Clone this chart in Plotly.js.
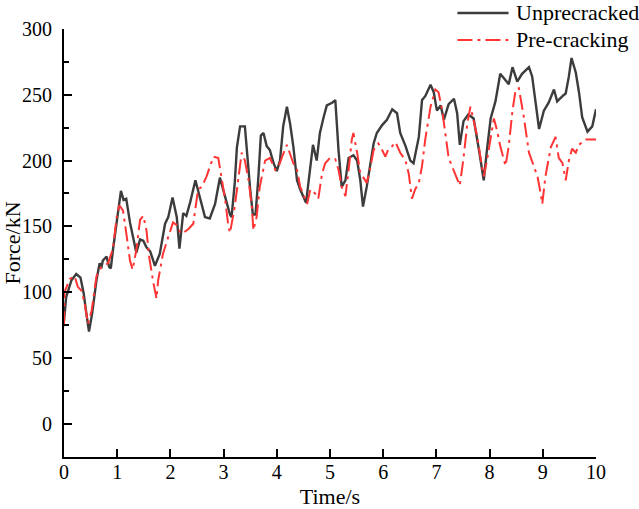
<!DOCTYPE html>
<html>
<head>
<meta charset="utf-8">
<script src="https://cdn.plot.ly/plotly-3.0.1.min.js"></script>
<style>html,body{margin:0;padding:0;background:#fff;}#chart{width:639px;height:509px;}</style>
</head>
<body>
<div id="chart"></div>
<script>
// Unprecracked series (time in s, force in kN)
var timeUnprecracked = [0.00,0.04,0.14,0.23,0.31,0.37,0.43,0.47,0.53,0.61,0.67,0.70,0.73,0.80,0.85,0.88,0.92,0.99,1.04,1.07,1.12,1.17,1.24,1.30,1.36,1.43,1.49,1.55,1.62,1.71,1.80,1.90,1.96,2.04,2.12,2.17,2.24,2.30,2.37,2.47,2.56,2.65,2.74,2.84,2.93,3.03,3.12,3.15,3.21,3.25,3.31,3.40,3.43,3.50,3.55,3.60,3.65,3.70,3.75,3.81,3.87,3.94,4.00,4.06,4.12,4.19,4.25,4.31,4.38,4.44,4.55,4.63,4.68,4.75,4.81,4.88,4.94,5.04,5.10,5.16,5.22,5.29,5.35,5.44,5.51,5.57,5.62,5.69,5.82,5.88,5.98,6.07,6.17,6.26,6.32,6.42,6.51,6.57,6.67,6.73,6.79,6.89,6.95,7.01,7.08,7.14,7.23,7.33,7.39,7.44,7.51,7.60,7.70,7.80,7.89,7.95,8.02,8.11,8.20,8.30,8.36,8.43,8.52,8.61,8.74,8.80,8.86,8.93,9.02,9.11,9.21,9.27,9.37,9.43,9.49,9.54,9.62,9.68,9.74,9.84,9.93,10.00];
var forceUnprecracked = [78,96,109,113.7,111,99,81,70,84,109,122,118,124,127,119,118,132,152,170,177,170,171,153,142,130,140,139,134,131,120,129,152,157,172,157,133,160,158,168,185,170,157,156,167,187,173,159,157,183,210,226,226,211,178,159,159,185,219,221,211,208,198,192,200,226,241,228,211,185,178,168,195,212,200,221,233,242,244,246,208,180,185,202,204,200,185,165,180,213,221,227,231,239,236,221,211,200,198,218,246,249,257.6,252,238,242,231,243,247,236,212,230,235,232,208,185,208,232,245,266,261,258,271,260,266,271,264,246,224,238,244,254,245,249,251,264,278,267,252,233,222,226,239];

// Pre-cracking series
var timePrecracking = [0.00,0.01,0.11,0.20,0.26,0.33,0.39,0.45,0.52,0.61,0.70,0.83,0.92,0.99,1.04,1.11,1.17,1.24,1.29,1.36,1.43,1.49,1.55,1.60,1.68,1.74,1.77,1.86,1.96,2.05,2.15,2.18,2.24,2.34,2.43,2.52,2.59,2.68,2.74,2.81,2.90,2.96,3.03,3.09,3.12,3.21,3.28,3.34,3.40,3.47,3.53,3.56,3.62,3.68,3.78,3.87,3.97,4.03,4.12,4.19,4.25,4.31,4.38,4.44,4.50,4.57,4.63,4.72,4.78,4.85,4.91,5.00,5.10,5.16,5.22,5.29,5.35,5.41,5.44,5.51,5.57,5.63,5.69,5.76,5.82,5.91,5.98,6.04,6.10,6.17,6.23,6.32,6.42,6.48,6.54,6.60,6.67,6.73,6.79,6.89,6.98,7.04,7.11,7.17,7.23,7.30,7.36,7.44,7.51,7.58,7.64,7.70,7.77,7.83,7.89,7.95,8.02,8.08,8.14,8.20,8.30,8.36,8.43,8.49,8.55,8.64,8.74,8.83,8.90,8.96,8.99,9.05,9.15,9.24,9.30,9.37,9.43,9.49,9.55,9.62,9.68,9.81,10.00];
var forcePrecracking = [74,100,110,112,104,101,91,76,86,112,119,122,133,157,166,162,145,124,117,132,155,158,147,127,107,95,109,129,142,153,150,145,145,148,152,178,180,188,195,203,202,188,170,150,145,165,188,206,200,185,165,147,157,180,200,202,193,195,205,212,205,198,193,180,174,167,178,175,171,190,198,202,201,193,180,173,193,216,221,206,190,187,183,195,208,213,208,203,209,211,214,206,200,190,171,178,183,196,216,241,254,252,238,218,202,195,189,181,202,228,241,231,218,202,188,200,218,232,223,211,196,211,238,254,255,234,206,195,188,175,167,188,210,218,202,198,185,200,209,206,212,216,216];

// Labels
var seriesNames = ["Unprecracked", "Pre-cracking"];
var xTitle = "Time/s";
var yTitle = "Force/kN";
var xTickVals = [0,1,2,3,4,5,6,7,8,9,10];
var yTickVals = [0,50,100,150,200,250,300];

var serif = "Liberation Serif, Times New Roman, serif";
var blackCol = "#3c3c3c";
var redCol = "#ff3434";
var redDash = "15px,5px,3px,5px";

var traces = [
  {x: timeUnprecracked, y: forceUnprecracked, name: seriesNames[0], type: "scatter", mode: "lines",
   line: {color: blackCol, width: 2.4}, showlegend: false},
  {x: timePrecracking, y: forcePrecracking, name: seriesNames[1], type: "scatter", mode: "lines",
   line: {color: redCol, width: 2, dash: redDash}, showlegend: false}
];

var layout = {
  width: 639, height: 509,
  margin: {l: 64, r: 43, t: 29, b: 52, pad: 0},
  paper_bgcolor: "#fff", plot_bgcolor: "#fff",
  font: {family: serif, size: 20, color: "#000"},
  xaxis: {
    range: [0, 10], tickvals: xTickVals, ticks: "inside", ticklen: 8, tickwidth: 2, tickcolor: "#000",
    showline: true, linewidth: 2, linecolor: "#000", showgrid: false, zeroline: false,
    tickfont: {family: serif, size: 20, color: "#000"}, ticklabelstandoff: -4,
    title: {text: xTitle, font: {family: serif, size: 22, color: "#000"}, standoff: 16}
  },
  yaxis: {
    range: [-25.4, 300.05], tickvals: yTickVals, ticks: "inside", ticklen: 8, tickwidth: 2, tickcolor: "#000",
    showline: true, linewidth: 2, linecolor: "#000", showgrid: false, zeroline: false,
    minor: {ticks: "inside", ticklen: 5, tickwidth: 2, tickcolor: "#000", dtick: 25, showgrid: false},
    tickfont: {family: serif, size: 20, color: "#000"}, ticklabelstandoff: 6,
    title: {text: yTitle, font: {family: serif, size: 22, color: "#000"}, standoff: 10}
  },
  showlegend: false,
  shapes: [
    {type: "line", xref: "paper", yref: "paper", x0: 0.7395, x1: 0.8356, y0: 1.0374, y1: 1.0374,
     line: {color: blackCol, width: 2.4}},
    {type: "line", xref: "paper", yref: "paper", x0: 0.7395, x1: 0.8356, y0: 0.9743, y1: 0.9743,
     line: {color: redCol, width: 2, dash: redDash}}
  ],
  annotations: [
    {xref: "paper", yref: "paper", x: 0.845, y: 1.0374, xanchor: "left", yanchor: "middle", showarrow: false,
     text: seriesNames[0], font: {family: serif, size: 22, color: "#000"}},
    {xref: "paper", yref: "paper", x: 0.845, y: 0.9743, xanchor: "left", yanchor: "middle", showarrow: false,
     text: seriesNames[1], font: {family: serif, size: 22, color: "#000"}}
  ]
};

Plotly.newPlot("chart", traces, layout, {displayModeBar: false, staticPlot: true});
</script>
</body>
</html>
